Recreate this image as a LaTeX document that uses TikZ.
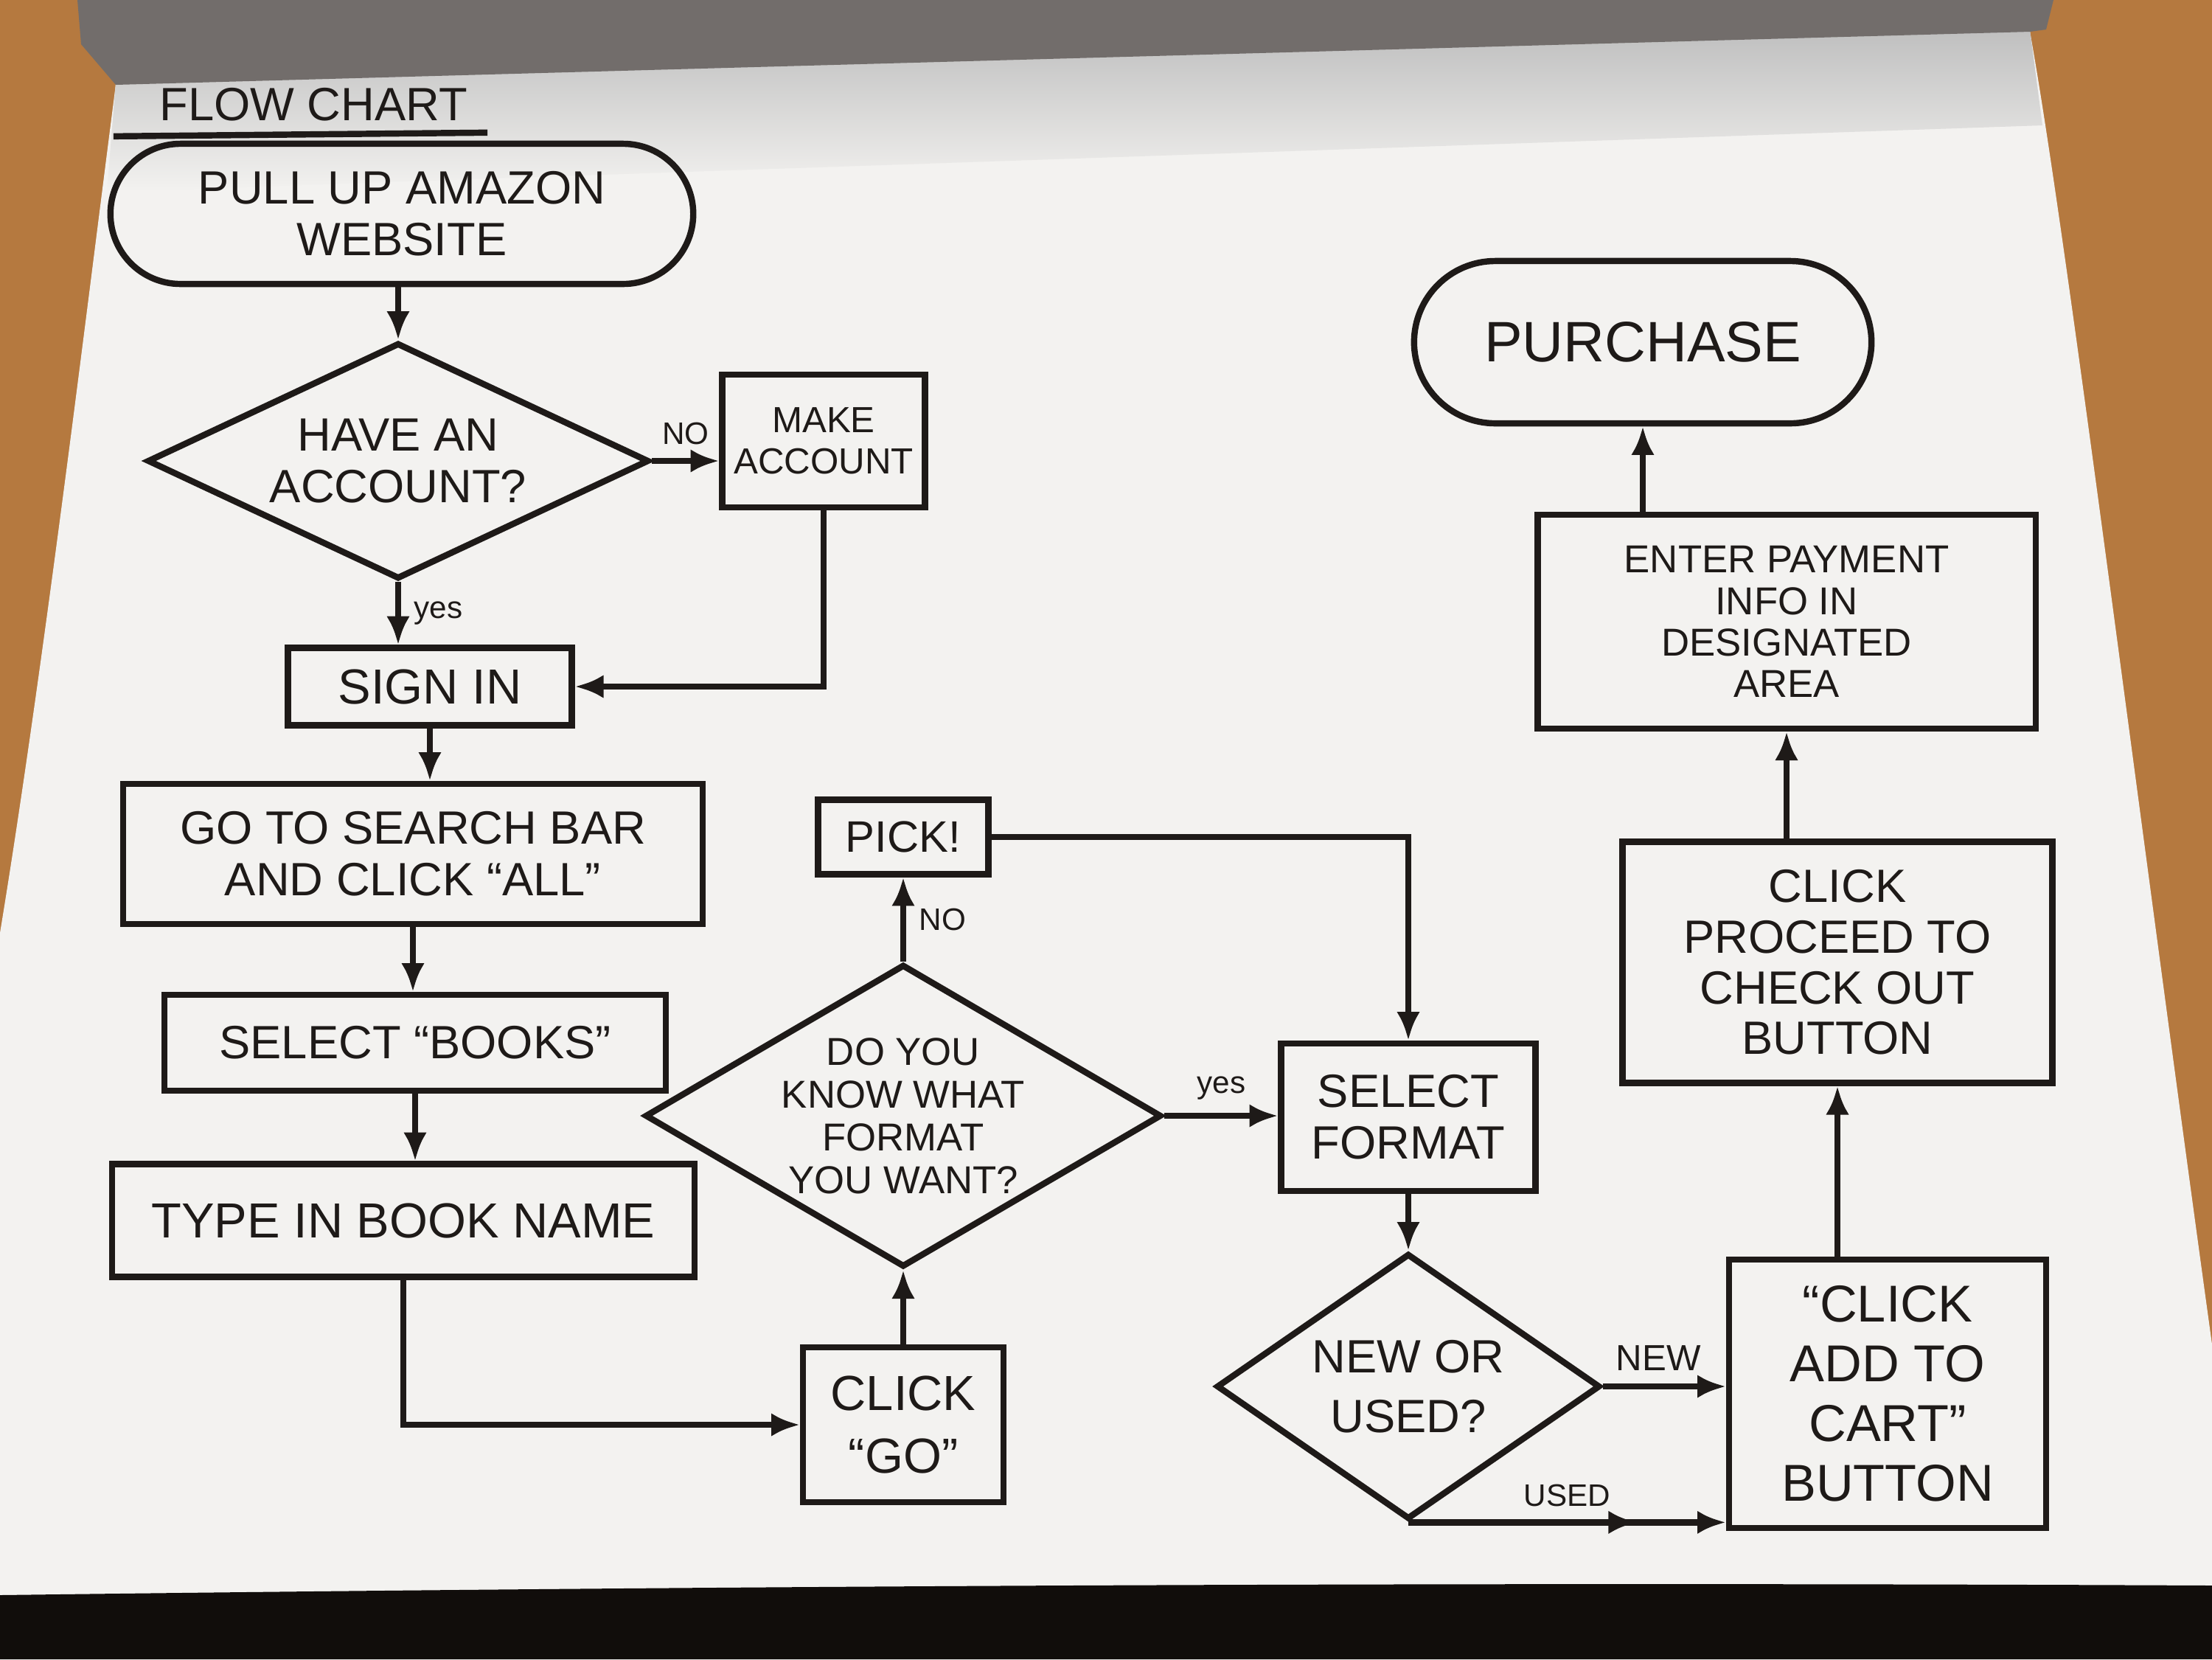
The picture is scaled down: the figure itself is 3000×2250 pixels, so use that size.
\documentclass[tikz,border=0pt]{standalone}
\usepackage{fontspec}
\setmainfont{Liberation Sans}
\usetikzlibrary{arrows.meta,shapes.geometric,decorations.markings,calc}
\definecolor{wood}{HTML}{B5793F}
\definecolor{paper}{HTML}{F3F2F0}
\definecolor{band}{HTML}{726D6B}
\definecolor{floor}{HTML}{110D0B}
\definecolor{ink}{HTML}{1E1A18}
\newcommand\fsz[2]{\fontsize{#1}{#2}\selectfont}
\begin{document}
\begin{tikzpicture}[x=0.01cm,y=-0.01cm,
  inkline/.style={draw=ink, line width=2.4pt},
  box/.style={inkline, rectangle, align=center, text=ink, inner sep=4pt, font=\fsz{18}{20}},
  dec/.style={inkline, diamond, align=center, text=ink, inner sep=-16pt, font=\fsz{18}{20}},
  term/.style={inkline, rectangle, align=center, text=ink, font=\fsz{18}{20}},
  flow/.style={inkline, -{Latex[length=11pt,width=9pt]}},
  lbl/.style={text=ink, font=\fsz{12}{14}, inner sep=5pt}
]
\useasboundingbox (0,0) rectangle (3000,2250);
% photo background
\fill[wood] (0,0) rectangle (3000,2250);
\fill[paper] (157,115) .. controls (120,400) and (60,900) .. (0,1265) -- (0,2170)
  -- (3000,2170) -- (3000,1823) .. controls (2900,1100) and (2800,300) .. (2753,43) -- cycle;
\shade[top color=black!25, bottom color=paper] (157,112) -- (2753,40) -- (2770,170) -- (145,260) -- cycle;
\fill[band] (105,0) -- (2785,0) -- (2775,40) -- (2753,43) -- (157,115) -- (110,60) -- cycle;
\fill[floor] (0,2163) .. controls (1000,2150) and (2000,2145) .. (3000,2150) -- (3000,2250) -- (0,2250) -- cycle;

% title
\node[text=ink, font=\fsz{18}{20}] (title) at (425,142) {FLOW CHART};
\draw[inkline] ($(title.south west)+(-50,8)$) -- ($(title.south east)+(15,3)$);

% left column
\node[term, minimum width=7.9cm, minimum height=1.9cm, rounded corners=0.95cm] (start) at (545,290) {PULL UP AMAZON\\WEBSITE};
\node[dec, minimum width=6.8cm, minimum height=3.2cm] (acct) at (540,625) {HAVE AN\\ACCOUNT?};
\node[box, minimum width=2.75cm, minimum height=1.8cm, font=\fsz{14}{16}] (make) at (1117,598) {MAKE\\ACCOUNT};
\node[box, minimum width=3.85cm, minimum height=1.05cm, font=\fsz{19}{21}] (signin) at (583,931) {SIGN IN};
\node[box, minimum width=7.85cm, minimum height=1.9cm] (search) at (560,1158) {GO TO SEARCH BAR\\AND CLICK “ALL”};
\node[box, minimum width=6.8cm, minimum height=1.3cm] (books) at (563,1414) {SELECT “BOOKS”};
\node[box, minimum width=7.9cm, minimum height=1.53cm, font=\fsz{19}{21}] (type) at (547,1655) {TYPE IN BOOK NAME};

% middle column
\node[box, minimum width=2.72cm, minimum height=2.1cm, font=\fsz{19}{24}] (go) at (1225,1932) {CLICK\\“GO”};
\node[dec, minimum width=7.0cm, minimum height=4.1cm, font=\fsz{15}{16.5}] (fmt) at (1225,1513) {DO YOU\\KNOW WHAT\\FORMAT\\YOU WANT?};
\node[box, minimum width=2.31cm, minimum height=1.01cm, font=\fsz{17}{19}] (pick) at (1225,1135) {PICK!};
\node[box, minimum width=3.45cm, minimum height=2.0cm] (selfmt) at (1910,1515) {SELECT\\FORMAT};
\node[dec, minimum width=5.2cm, minimum height=3.6cm, font=\fsz{18}{23}] (nu) at (1910,1880) {NEW OR\\USED?};

% right column
\node[box, minimum width=4.3cm, minimum height=3.64cm, font=\fsz{20}{23}] (cart) at (2560,1890) {“CLICK\\ADD TO\\CART”\\BUTTON};
\node[box, minimum width=5.83cm, minimum height=3.27cm, font=\fsz{18}{19.5}] (proceed) at (2492,1305) {CLICK\\PROCEED TO\\CHECK OUT\\BUTTON};
\node[box, minimum width=6.75cm, minimum height=2.9cm, font=\fsz{15}{16}] (payment) at (2423,843) {ENTER PAYMENT\\INFO IN\\DESIGNATED\\AREA};
\node[term, minimum width=6.2cm, minimum height=2.2cm, rounded corners=1.1cm, font=\fsz{22}{24}] (purchase) at (2228,464) {PURCHASE};

% connectors
\draw[flow] (acct.north |- start.south) -- (acct.north);
\draw[flow] (acct.east) -- node[lbl, above] {NO} (acct.east -| make.west);
\draw[flow] (acct.south) -- node[lbl, right] {yes} (acct.south |- signin.north);
\draw[flow] (make.south) |- (signin.east);
\draw[flow] (signin.south) -- (signin.south |- search.north);
\draw[flow] (search.south) -- (search.south |- books.north);
\draw[flow] (books.south) -- (books.south |- type.north);
\draw[flow] (type.south) |- (go.west);
\draw[flow] (go.north) -- (fmt.south);
\draw[flow] (fmt.north) -- node[lbl, right] {NO} (pick.south);
\draw[flow] (pick.east) -| (selfmt.north);
\draw[flow] (fmt.east) -- node[lbl, above] {yes} (fmt.east -| selfmt.west);
\draw[flow] (selfmt.south) -- (nu.north);
\draw[flow] (nu.east) -- node[lbl, above, pos=0.45, font=\fsz{14}{16}] {NEW} (nu.east -| cart.west);
\draw[flow, postaction={decorate}, decoration={markings, mark=at position 0.72 with {\arrow{Latex[length=11pt,width=9pt]}}}]
  (nu.south) -- node[lbl, above] {USED} (nu.south -| cart.west);
\draw[flow] (cart.north -| proceed.south) -- (proceed.south);
\draw[flow] (proceed.north -| payment.south) -- (payment.south);
\draw[flow] (payment.north -| purchase.south) -- (purchase.south);
\end{tikzpicture}
\end{document}
